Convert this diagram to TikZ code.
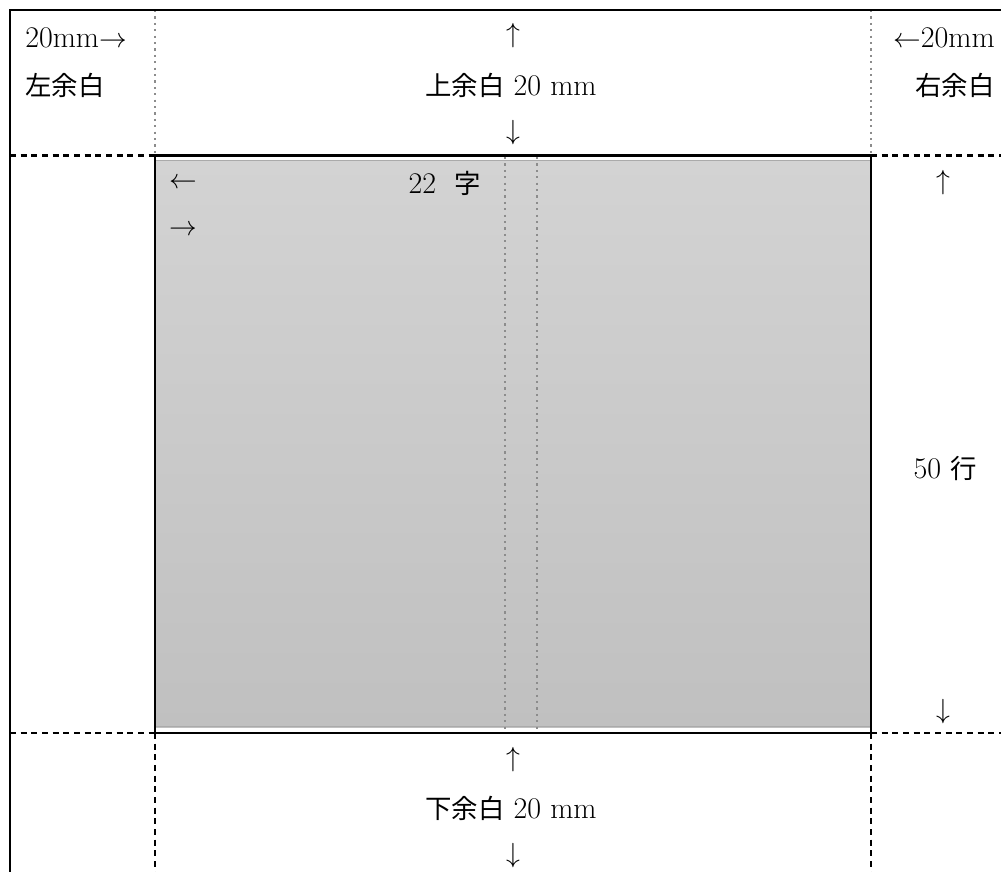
\documentclass[tikz,border=0pt]{standalone}
\usepackage{fontspec}
\newfontfamily\jpfont[Scale=0.88]{Noto Sans CJK JP}
\usepackage{xcolor}
\usetikzlibrary{positioning}

\definecolor{dotgray}{RGB}{140,140,140}
\definecolor{areatop}{RGB}{211,211,211}
\definecolor{areabot}{RGB}{192,192,192}
\definecolor{areaedge}{RGB}{170,170,170}

\tikzset{
  lbl/.style={inner sep=0pt, font=\fontsize{22.5}{27}\selectfont},
  pageline/.style={line width=2pt},
  arealine/.style={line width=2pt},
  dotline/.style={dotgray, line width=2pt, dash pattern=on 1.6pt off 3.2pt},
  dashline/.style={line width=1.8pt, dash pattern=on 4.5pt off 3.5pt}
}

\begin{document}
\begin{tikzpicture}[x=0.75pt,y=0.75pt,yscale=-1,xscale=1]
\useasboundingbox (0,0) rectangle (1001,872);

%Shape: text area fill
\shade [top color=areatop, bottom color=areabot] (156,160) rectangle (871,727);
\draw [areaedge, line width=0.8pt] (156,160.5) -- (871,160.5);
\draw [areaedge, line width=0.8pt] (156,726.5) -- (871,726.5);

%Straight Lines: centre gap
\draw [dotline] (505,157) -- (505,733);
\draw [dotline] (537,157) -- (537,733);

%Straight Lines: left and right margin marks
\draw [dotline] (155,10) -- (155,155);
\draw [dotline] (871,10) -- (871,155);

%Straight Lines: top and bottom margin marks
\draw [dashline] (10,155.5) -- (155,155.5);
\draw [dashline] (871,155.5) -- (1001,155.5);
\draw [dashline] (10,733) -- (155,733);
\draw [dashline] (871,733) -- (1001,733);
\draw [dashline] (155,733) -- (155,872);
\draw [dashline] (871,733) -- (871,872);

%Shape: text area
\draw [arealine] (155,155.5) rectangle (871,733);

%Shape: page
\draw [pageline] (10,872) -- (10,10) -- (1001,10);

% Text Node
\node [lbl, anchor=west] (lmm) at (25,38) {20mm$\rightarrow$};
% Text Node
\node [lbl, anchor=west] (lname) at (25,85) {\jpfont 左余白};
% Text Node
\node [lbl, anchor=east] (rmm) at (995,38) {$\leftarrow$20mm};
% Text Node
\node [lbl, anchor=east] (rname) at (995,85) {\jpfont 右余白};

% Text Node
\node [lbl] (tup) at (513,36) {$\uparrow$};
% Text Node
\node [lbl] (tname) at (511,85) {{\jpfont 上余白} 20 mm};
% Text Node
\node [lbl] (tdown) at (513,133) {$\downarrow$};

% Text Node
\node [lbl] (bup) at (513,760) {$\uparrow$};
% Text Node
\node [lbl] (bname) at (511,808) {{\jpfont 下余白} 20 mm};
% Text Node
\node [lbl] (bdown) at (513,856) {$\downarrow$};

% Text Node
\node [lbl] (cleft) at (183,183) {$\leftarrow$};
% Text Node
\node [lbl] (cright) at (183,230) {$\rightarrow$};
% Text Node
\node [lbl, anchor=east] (chars) at (481,183) {22\ \ {\jpfont 字}};

% Text Node
\node [lbl] (lup) at (943,183) {$\uparrow$};
% Text Node
\node [lbl] (lines) at (945,468) {50 {\jpfont 行}};
% Text Node
\node [lbl] (ldown) at (943,712) {$\downarrow$};

\end{tikzpicture}
\end{document}
